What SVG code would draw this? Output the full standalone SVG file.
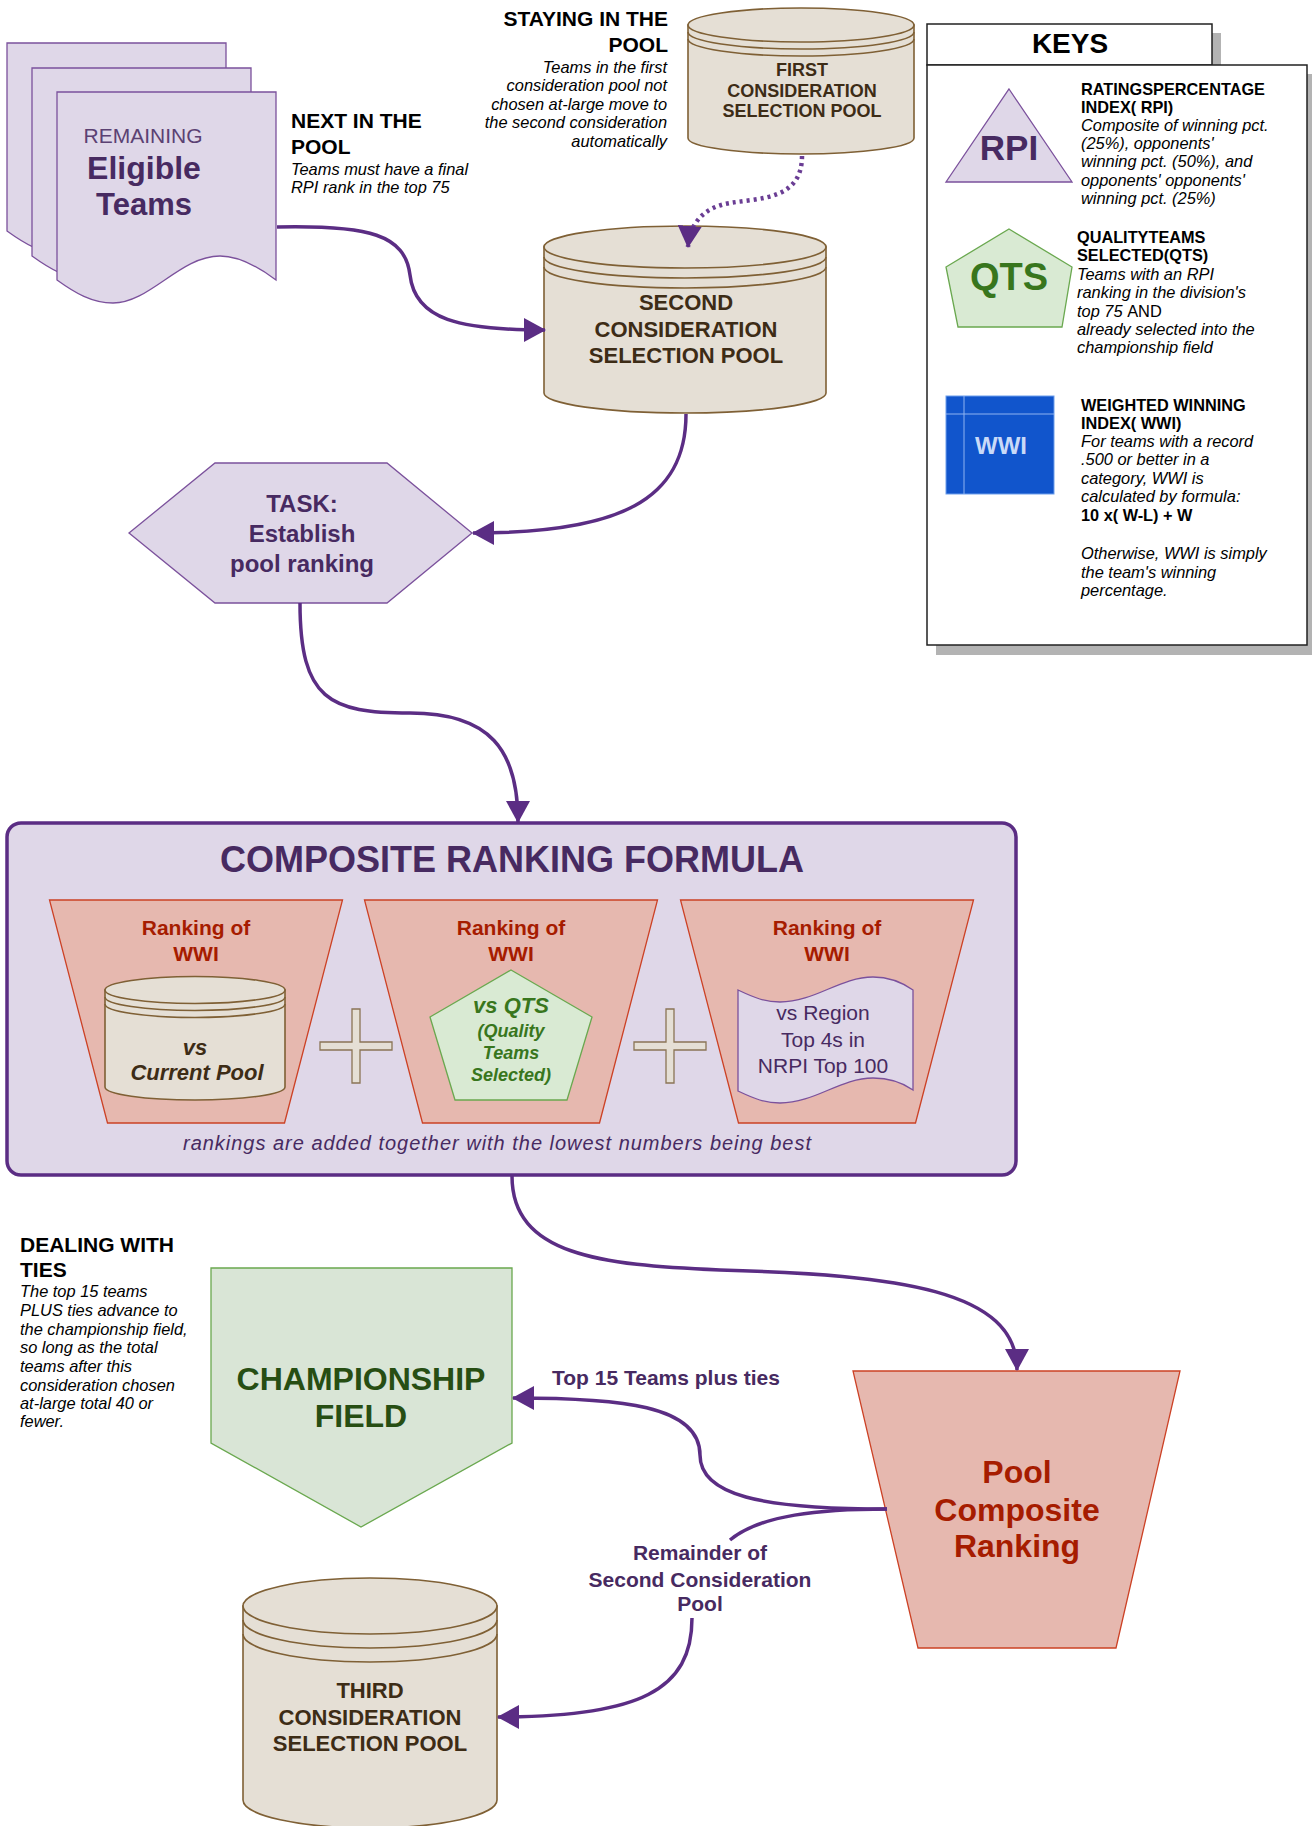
<svg xmlns="http://www.w3.org/2000/svg" xmlns:xlink="http://www.w3.org/1999/xlink" width="1312" height="1826" viewBox="0 0 1312 1826">
<style>
text{font-family:"Liberation Sans",Arial,sans-serif}
.b{font-weight:bold}
.i{font-style:italic}
.m{text-anchor:middle}
.e{text-anchor:end}
.blk{fill:#000}
.pur{fill:#472a61}
.brn{fill:#3d2c16}
.red{fill:#a61c00}
.lav{fill:#dfd7e8;stroke:#7b519c;stroke-width:1.3}
.pool{fill:#e5dfd5;stroke:#7f6035;stroke-width:1.6}
.poolline{fill:none;stroke:#7f6035;stroke-width:1.6}
.trap{fill:#e6b8af;stroke:#cc4125;stroke-width:1.3}
.grn{fill:#d9ead3;stroke:#6aa84f;stroke-width:1.3}
.conn{fill:none;stroke:#5b2d84;stroke-width:3.5}
.dot{fill:none;stroke:#6a3d94;stroke-width:4.5;stroke-dasharray:3 4}
.k{font-size:16.4px}
.kb{font-size:16.3px;font-weight:bold}
</style>
<defs>
<marker id="arr" viewBox="0 0 22 24" refX="21" refY="12" markerWidth="22" markerHeight="24" markerUnits="userSpaceOnUse" orient="auto">
<path d="M0,0 L22,12 L0,24 Z" fill="#5b2d84"/>
</marker>
<path id="doc" d="M57,92 H276 V280 C260,268 240,256 220,256 C180,256 150,303 113,303 C92,303 75,293 57,280 Z"/>
</defs>

<g id="eligible-teams">
<use xlink:href="#doc" href="#doc" class="lav" transform="translate(-50,-49)"/>
<use xlink:href="#doc" href="#doc" class="lav" transform="translate(-25,-24)"/>
<use xlink:href="#doc" href="#doc" class="lav"/>
<text x="143" y="143" class="m" style="font-size:21px;fill:#5b4173">REMAINING</text>
<text x="144" y="179" class="m b pur" style="font-size:32px">Eligible</text>
<text x="144" y="215" class="m b pur" style="font-size:31px">Teams</text>
</g>

<g id="note-next">
<text x="291" y="128" class="b blk" style="font-size:21px">NEXT IN THE</text>
<text x="291" y="154" class="b blk" style="font-size:21px">POOL</text>
<text x="291" y="175" class="i blk k">Teams must have a final</text>
<text x="291" y="193" class="i blk k">RPI rank in the top 75</text>
</g>

<g id="note-staying">
<text x="668" y="26" class="b blk e" style="font-size:21px">STAYING IN THE</text>
<text x="668" y="52" class="b blk e" style="font-size:21px">POOL</text>
<text x="667" y="73" class="i blk e k">Teams in the first</text>
<text x="667" y="91" class="i blk e k">consideration pool not</text>
<text x="667" y="110" class="i blk e k">chosen at-large move to</text>
<text x="667" y="128" class="i blk e k">the second consideration</text>
<text x="667" y="147" class="i blk e k">automatically</text>
</g>

<g id="first-pool">
<path class="pool" d="M688,25 V138 A113,16 0 0 0 914,138 V25 Z"/>
<ellipse class="pool" cx="801" cy="25" rx="113" ry="17"/>
<path class="poolline" d="M688,32 A113,17 0 0 0 914,32"/>
<path class="poolline" d="M688,39 A113,17 0 0 0 914,39"/>
<text x="802" y="76" class="m b brn" style="font-size:18px">FIRST</text>
<text x="802" y="97" class="m b brn" style="font-size:18px">CONSIDERATION</text>
<text x="802" y="117" class="m b brn" style="font-size:18px">SELECTION POOL</text>
</g>

<g id="second-pool">
<path class="pool" d="M544,247 V393 A141,20 0 0 0 826,393 V247 Z"/>
<ellipse class="pool" cx="685" cy="247" rx="141" ry="21"/>
<path class="poolline" d="M544,257 A141,21 0 0 0 826,257"/>
<path class="poolline" d="M544,267 A141,21 0 0 0 826,267"/>
<text x="686" y="310" class="m b brn" style="font-size:22px">SECOND</text>
<text x="686" y="337" class="m b brn" style="font-size:22px">CONSIDERATION</text>
<text x="686" y="363" class="m b brn" style="font-size:22px">SELECTION POOL</text>
</g>

<g id="keys">
<rect x="936" y="33" width="285" height="41" fill="#b3b3b3"/>
<rect x="936" y="74" width="390" height="581" fill="#b3b3b3"/>
<rect x="927" y="24" width="285" height="41" fill="#fff" stroke="#222" stroke-width="1.5"/>
<rect x="927" y="65" width="380" height="580" fill="#fff" stroke="#222" stroke-width="1.5"/>
<text x="1070" y="53" class="m b blk" style="font-size:28px">KEYS</text>
<polygon points="1009,89 1072,182 946,182" class="lav"/>
<text x="1009" y="160" class="m b pur" style="font-size:35px">RPI</text>
<text x="1081" y="95" class="blk kb">RATINGSPERCENTAGE</text>
<text x="1081" y="113" class="blk kb">INDEX( RPI)</text>
<text x="1081" y="131" class="i blk k">Composite of winning pct.</text>
<text x="1081" y="149" class="i blk k">(25%), opponents'</text>
<text x="1081" y="167" class="i blk k">winning pct. (50%), and</text>
<text x="1081" y="186" class="i blk k">opponents' opponents'</text>
<text x="1081" y="204" class="i blk k">winning pct. (25%)</text>
<polygon points="1009,229 1072,267 1062,327 958,327 946,267" class="grn"/>
<text x="1009" y="290" class="m b" style="font-size:38px;fill:#38761d">QTS</text>
<text x="1077" y="243" class="blk kb">QUALITYTEAMS</text>
<text x="1077" y="261" class="blk kb">SELECTED(QTS)</text>
<text x="1077" y="280" class="i blk k">Teams with an RPI</text>
<text x="1077" y="298" class="i blk k">ranking in the division's</text>
<text x="1077" y="317" class="i blk k">top 75 <tspan style="font-style:normal">AND</tspan></text>
<text x="1077" y="335" class="i blk k">already selected into the</text>
<text x="1077" y="353" class="i blk k">championship field</text>
<rect x="946" y="396" width="108" height="98" fill="#1155cc" stroke="#6d9eeb" stroke-width="1"/>
<path d="M964,396 V494 M946,414 H1054" stroke="#8fb3f0" stroke-width="1" fill="none"/>
<text x="1001" y="454" class="m b" style="font-size:24px;fill:#c9daf8">WWI</text>
<text x="1081" y="411" class="blk kb">WEIGHTED WINNING</text>
<text x="1081" y="429" class="blk kb">INDEX( WWI)</text>
<text x="1081" y="447" class="i blk k">For teams with a record</text>
<text x="1081" y="465" class="i blk k">.500 or better in a</text>
<text x="1081" y="484" class="i blk k">category, WWI is</text>
<text x="1081" y="502" class="i blk k">calculated by formula:</text>
<text x="1081" y="521" class="blk kb">10 x( W-L) + W</text>
<text x="1081" y="559" class="i blk k">Otherwise, WWI is simply</text>
<text x="1081" y="578" class="i blk k">the team's winning</text>
<text x="1081" y="596" class="i blk k">percentage.</text>
</g>

<g id="task">
<polygon points="129,533 215,463 387,463 472,533 387,603 215,603" class="lav"/>
<text x="302" y="512" class="m b pur" style="font-size:24px">TASK:</text>
<text x="302" y="542" class="m b pur" style="font-size:24px">Establish</text>
<text x="302" y="572" class="m b pur" style="font-size:24px">pool ranking</text>
</g>

<g id="composite-formula">
<rect x="7" y="823" width="1009" height="352" rx="14" fill="#dfd7e8" stroke="#5b2d84" stroke-width="3.5"/>
<text x="512" y="872" class="m b pur" style="font-size:36px">COMPOSITE RANKING FORMULA</text>
<polygon points="49.5,900 342.5,900 284.5,1123 107.5,1123" class="trap"/>
<polygon points="364.5,900 657.5,900 599.5,1123 422.5,1123" class="trap"/>
<polygon points="680.5,900 973.5,900 915.5,1123 738.5,1123" class="trap"/>
<text x="196" y="935" class="m b red" style="font-size:21px">Ranking of</text>
<text x="196" y="961" class="m b red" style="font-size:21px">WWI</text>
<text x="511" y="935" class="m b red" style="font-size:21px">Ranking of</text>
<text x="511" y="961" class="m b red" style="font-size:21px">WWI</text>
<text x="827" y="935" class="m b red" style="font-size:21px">Ranking of</text>
<text x="827" y="961" class="m b red" style="font-size:21px">WWI</text>
<path class="pool" d="M105,990 V1087 A90,13 0 0 0 285,1087 V990 Z"/>
<ellipse class="pool" cx="195" cy="990" rx="90" ry="13.5"/>
<path class="poolline" d="M105,997 A90,13.5 0 0 0 285,997"/>
<path class="poolline" d="M105,1004 A90,13.5 0 0 0 285,1004"/>
<text x="195" y="1055" class="m b i brn" style="font-size:22px">vs</text>
<text x="197" y="1080" class="m b i brn" style="font-size:22px">Current Pool</text>
<path d="M352,1009 H360 V1042 H392 V1050 H360 V1083 H352 V1050 H320 V1042 H352 Z" fill="#e5dfd5" stroke="#8a7455" stroke-width="1.3"/>
<path d="M666,1009 H674 V1042 H706 V1050 H674 V1083 H666 V1050 H634 V1042 H666 Z" fill="#e5dfd5" stroke="#8a7455" stroke-width="1.3"/>
<polygon points="511,970 592,1017 567,1100 455,1100 430,1017" class="grn"/>
<text x="511" y="1013" class="m b i" style="font-size:22px;fill:#38761d">vs QTS</text>
<text x="511" y="1037" class="m b i" style="font-size:18px;fill:#38761d">(Quality</text>
<text x="511" y="1059" class="m b i" style="font-size:18px;fill:#38761d">Teams</text>
<text x="511" y="1081" class="m b i" style="font-size:18px;fill:#38761d">Selected)</text>
<path class="lav" d="M738,990 C755,998 765,1002 780,1002 C815,1002 840,977 873,977 C890,977 903,983 913,990 V1090 C903,1083 890,1078 873,1078 C840,1078 815,1103 780,1103 C765,1103 755,1099 738,1091 Z"/>
<text x="823" y="1020" class="m pur" style="font-size:21px">vs Region</text>
<text x="823" y="1047" class="m pur" style="font-size:21px">Top 4s in</text>
<text x="823" y="1073" class="m pur" style="font-size:21px">NRPI Top 100</text>
<text x="497" y="1150" class="m i pur" style="font-size:20px" textLength="628" lengthAdjust="spacing">rankings are added together with the lowest numbers being best</text>
</g>

<g id="note-ties">
<text x="20" y="1252" class="b blk" style="font-size:21px">DEALING WITH</text>
<text x="20" y="1277" class="b blk" style="font-size:21px">TIES</text>
<text x="20" y="1297" class="i blk k">The top 15 teams</text>
<text x="20" y="1316" class="i blk k">PLUS ties advance to</text>
<text x="20" y="1335" class="i blk k">the championship field,</text>
<text x="20" y="1353" class="i blk k">so long as the total</text>
<text x="20" y="1372" class="i blk k">teams after this</text>
<text x="20" y="1391" class="i blk k">consideration chosen</text>
<text x="20" y="1409" class="i blk k">at-large total 40 or</text>
<text x="20" y="1427" class="i blk k">fewer.</text>
</g>

<g id="championship-field">
<polygon points="211,1268 512,1268 512,1443 361,1527 211,1443" fill="#d9e5d6" stroke="#6aa84f" stroke-width="1.3"/>
<text x="361" y="1390" class="m b" style="font-size:32px;fill:#274e13">CHAMPIONSHIP</text>
<text x="361" y="1427" class="m b" style="font-size:32px;fill:#274e13">FIELD</text>
</g>

<g id="pool-composite">
<polygon points="853,1371 1180,1371 1116,1648 918,1648" class="trap"/>
<text x="1017" y="1483" class="m b red" style="font-size:32px">Pool</text>
<text x="1017" y="1521" class="m b red" style="font-size:32px">Composite</text>
<text x="1017" y="1557" class="m b red" style="font-size:32px">Ranking</text>
</g>

<g id="third-pool">
<path class="pool" d="M243,1606 V1800 A127,28 0 0 0 497,1800 V1606 Z"/>
<ellipse class="pool" cx="370" cy="1606" rx="127" ry="28"/>
<path class="poolline" d="M243,1620 A127,28 0 0 0 497,1620"/>
<path class="poolline" d="M243,1634 A127,28 0 0 0 497,1634"/>
<text x="370" y="1698" class="m b brn" style="font-size:22px">THIRD</text>
<text x="370" y="1725" class="m b brn" style="font-size:22px">CONSIDERATION</text>
<text x="370" y="1751" class="m b brn" style="font-size:22px">SELECTION POOL</text>
</g>

<g id="connectors">
<path class="conn" d="M277,227 C370,225 405,235 410,275 C415,320 460,330 545,330" marker-end="url(#arr)"/>
<path class="dot" d="M802,156 C802,200 760,198 730,203 C705,207 690,222 688,247" marker-end="url(#arr)"/>
<path class="conn" d="M686,414 C686,500 620,533 473,533" marker-end="url(#arr)"/>
<path class="conn" d="M300,603 C300,700 330,713 410,713 C490,713 518,750 518,822" marker-end="url(#arr)"/>
<path class="conn" d="M512,1176 C512,1255 600,1265 720,1270 C900,1275 1017,1290 1017,1370" marker-end="url(#arr)"/>
<path class="conn" d="M887,1509 C760,1509 700,1495 700,1455 C700,1405 620,1398 513,1398" marker-end="url(#arr)"/>
<path class="conn" d="M887,1509 C820,1509 760,1515 730,1540"/>
<path class="conn" d="M692,1618 C692,1690 640,1717 498,1717" marker-end="url(#arr)"/>
</g>

<g id="labels">
<text x="552" y="1385" class="b pur" style="font-size:21px">Top 15 Teams plus ties</text>
<text x="700" y="1560" class="m b pur" style="font-size:21px">Remainder of</text>
<text x="700" y="1587" class="m b pur" style="font-size:21px">Second Consideration</text>
<text x="700" y="1611" class="m b pur" style="font-size:21px">Pool</text>
</g>
</svg>
